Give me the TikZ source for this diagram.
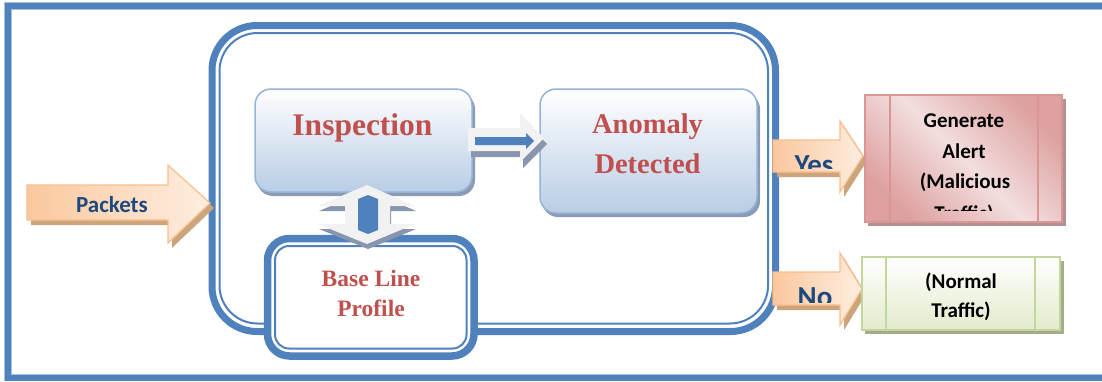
\documentclass[tikz,border=0pt]{standalone}
\usepackage{fontspec}
\setmainfont{Liberation Serif}
\newfontfamily\calibrifont{Carlito}
\definecolor{frameblue}{RGB}{79,129,189}
\definecolor{framelight}{RGB}{167,191,222}
\definecolor{boxborder}{RGB}{149,179,215}
\definecolor{boxbottom}{RGB}{185,205,229}
\definecolor{boxshade}{RGB}{140,155,180}
\definecolor{redtext}{RGB}{192,80,77}
\definecolor{navy}{RGB}{31,73,125}
\definecolor{peachA}{RGB}{250,200,158}
\definecolor{peachB}{RGB}{254,238,225}
\definecolor{arrowborder}{RGB}{250,190,140}
\definecolor{arrowshade}{RGB}{205,165,125}
\definecolor{pinkdark}{RGB}{222,160,160}
\definecolor{pinklight}{RGB}{243,222,222}
\definecolor{pinkborder}{RGB}{217,150,148}
\definecolor{pinkshade}{RGB}{180,145,145}
\definecolor{greenborder}{RGB}{195,214,155}
\definecolor{greenfill}{RGB}{226,235,205}
\definecolor{greenshade}{RGB}{165,172,140}
\definecolor{bevel}{RGB}{242,242,242}
\definecolor{bevelshade}{RGB}{135,150,172}
\begin{document}
\begin{tikzpicture}[x=1pt, y=-1pt,
  lblserif/.style={font=\bfseries\fontsize{#1}{#1}\selectfont, text=redtext, inner sep=0pt, anchor=base},
  lblsans/.style={font=\calibrifont\bfseries\fontsize{#1}{#1}\selectfont, inner sep=0pt, anchor=base},
  stepbox/.style={draw=boxborder, line width=1.5pt, rounded corners=16pt, top color=white, bottom color=boxbottom, inner sep=0pt, outer sep=0pt},
  ringbox/.style={draw=frameblue, inner sep=0pt, outer sep=0pt},
  blockarrow/.style={draw=arrowborder, line width=1.2pt, left color=peachA, right color=peachB, line join=miter},
  sidebox/.style={inner sep=0pt, outer sep=0pt, line width=1.5pt},
]
\clip (0,0) rectangle (1102,381);

% outer frame (open to the right)
\draw[framelight, line width=7.5pt] (8,6.2) rectangle (1120,377.5);
\draw[frameblue, line width=6pt] (8,6.2) rectangle (1120,377.5);

% detection engine container
\node[ringbox, line width=7pt, rounded corners=45pt, minimum width=563.5pt, minimum height=306pt] (container) at (493.75,178.5) {};
\draw[frameblue, line width=2pt, rounded corners=38pt] ([shift={(7.5,7.5)}]container.north west) rectangle ([shift={(-7.5,-8)}]container.south east);

% base line profile
\node[ringbox, fill=white, line width=7.5pt, rounded corners=22pt, minimum width=206.5pt, minimum height=117.5pt] (baseline) at (370.75,297.25) {};
\draw[frameblue, line width=2pt, rounded corners=14pt] ([shift={(7.5,7.5)}]baseline.north west) rectangle ([shift={(-7.5,-7.5)}]baseline.south east);
\node[lblserif=23.5] (baseA) at (371,286) {Base Line};
\node[lblserif=23.5] (baseB) at (371,316) {Profile};

% inspection
\fill[boxshade, rounded corners=16pt] (257,93) rectangle (475,196);
\node[stepbox, minimum width=217pt, minimum height=103pt] (insp) at (363.5,140.5) {};
\node[lblserif=31.5] (inspT) at (362.5,135) {Inspection};

% anomaly detected
\fill[boxshade, rounded corners=16pt] (542,93) rectangle (760,217);
\node[stepbox, minimum width=217pt, minimum height=124pt] (anom) at (648.5,151) {};
\node[lblserif=28.5] (anomA) at (647.5,133) {Anomaly};
\node[lblserif=28.5] (anomB) at (647.5,173) {Detected};

% bevelled arrow inspection -> anomaly
\fill[bevelshade] (471,134) -- (523,134) -- (523,120) -- (547,144) -- (523,168) -- (523,157) -- (471,157) -- cycle;
\fill[bevel] (468,128) -- (520,128) -- (520,114) -- (544,138) -- (520,162) -- (520,151) -- (468,151) -- cycle;
\fill[frameblue] (475,137) -- (526,137) -- (526,133) -- (534,141) -- (526,149) -- (526,145) -- (475,145) -- cycle;

% bevelled up-down arrow inspection <-> base line
\fill[bevelshade] (368,190) -- (416,211) -- (391,211) -- (391,229) -- (416,229) -- (368,249) -- (319,229) -- (346,229) -- (346,211) -- (319,211) -- cycle;
\fill[bevel] (367,185) -- (415,206) -- (390,206) -- (390,224) -- (415,224) -- (367,244) -- (318,224) -- (345,224) -- (345,206) -- (318,206) -- cycle;
\fill[frameblue] (358,199) -- (368,195) -- (378,199) -- (378,230) -- (368,234) -- (358,230) -- cycle;

% packets arrow
\fill[arrowshade] (31,190) -- (172,190) -- (172,170) -- (214,208) -- (172,248) -- (172,225) -- (31,225) -- cycle;
\draw[blockarrow] (27,185) -- (168,185) -- (168,165) -- (210,203) -- (168,243) -- (168,220) -- (27,220) -- cycle;
\node[lblsans=23, text=navy] (packets) at (112,212) {Packets};

% yes arrow
\fill[arrowshade] (777,145) -- (844,145) -- (844,126) -- (867,161) -- (844,197) -- (844,177) -- (777,177) -- cycle;
\draw[blockarrow] (773,140) -- (840,140) -- (840,121) -- (863,156) -- (840,192) -- (840,172) -- (773,172) -- cycle;
\begin{scope}
  \clip (774,141) rectangle (839,168);
  \node[lblsans=29, text=navy] (yes) at (814,174.7) {Yes};
\end{scope}

% no arrow
\fill[arrowshade] (777,277) -- (844,277) -- (844,258) -- (866,294) -- (844,330) -- (844,310) -- (777,310) -- cycle;
\draw[blockarrow] (773,272) -- (840,272) -- (840,253) -- (862,289) -- (840,325) -- (840,305) -- (773,305) -- cycle;
\begin{scope}
  \clip (774,273) rectangle (839,302);
  \node[lblsans=29, text=navy] (no) at (815,306.7) {No};
\end{scope}

% generate alert
\fill[pinkshade] (868,99) rectangle (1066,226);
\node[sidebox, draw=pinkborder, left color=pinkdark, right color=pinkdark, middle color=pinklight, shading angle=135, minimum width=197pt, minimum height=127pt] (alert) at (963.5,158.5) {};
\draw[pinkborder, line width=1.5pt] ([xshift=25pt]alert.north west) -- ([xshift=25pt]alert.south west);
\draw[pinkborder, line width=1.5pt] ([xshift=-24pt]alert.north east) -- ([xshift=-24pt]alert.south east);
\begin{scope}
  \clip (866,96) rectangle (1061,210);
  \node[lblsans=21] (gen1) at (964,127) {Generate};
  \node[lblsans=21] (gen2) at (964,158) {Alert};
  \node[lblsans=21] (gen3) at (965,188) {(Malicious};
  \node[lblsans=21] (gen4) at (964,220.5) {Traffic)};
\end{scope}

% normal traffic
\fill[greenshade] (865,261) rectangle (1064,334);
\node[sidebox, draw=greenborder, top color=white, bottom color=greenfill, minimum width=198pt, minimum height=73pt] (normal) at (961,293.5) {};
\draw[greenborder, line width=1.5pt] ([xshift=24pt]normal.north west) -- ([xshift=24pt]normal.south west);
\draw[greenborder, line width=1.5pt] ([xshift=-25pt]normal.north east) -- ([xshift=-25pt]normal.south east);
\node[lblsans=21] (norm1) at (961,288) {(Normal};
\node[lblsans=21] (norm2) at (961,317) {Traffic)};
\end{tikzpicture}
\end{document}
